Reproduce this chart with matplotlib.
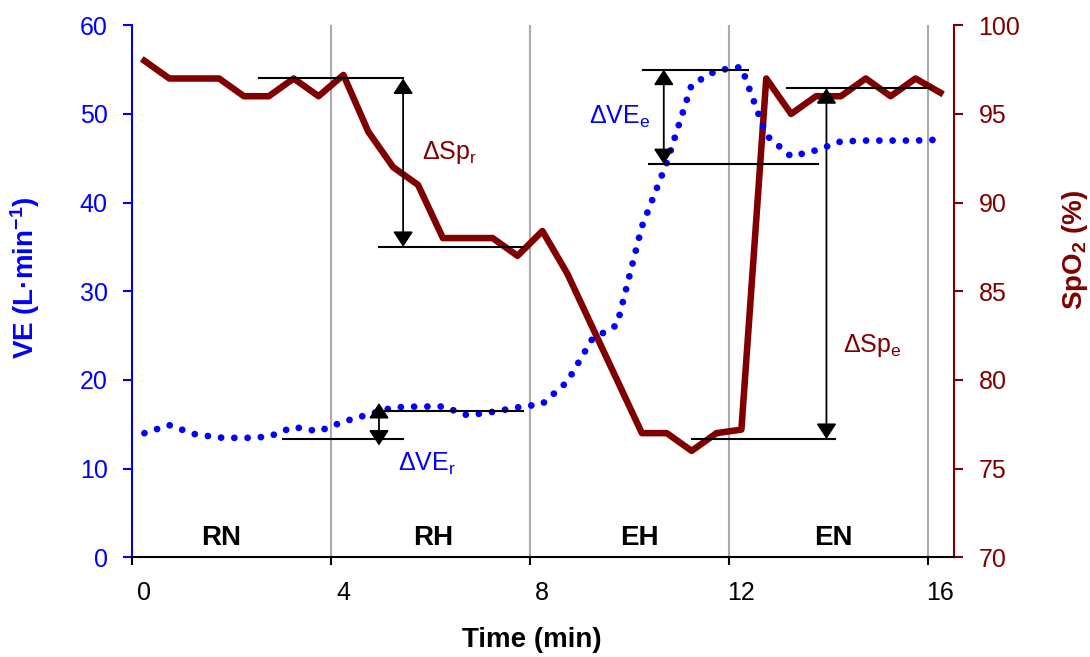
import matplotlib
matplotlib.use('Agg')
import matplotlib.pyplot as plt
from matplotlib.transforms import ScaledTranslation

plt.rcParams['font.family'] = ['Liberation Sans', 'DejaVu Sans']
plt.rcParams['mathtext.default'] = 'regular'

BLUE = '#0000ff'
DARKRED = '#800000'

# sample times (min)
time = [0.25, 0.75, 1.25, 1.75, 2.25, 2.75, 3.25, 3.75, 4.25, 4.75, 5.25,
        5.75, 6.25, 6.75, 7.25, 7.75, 8.25, 8.75, 9.25, 9.75, 10.25, 10.75,
        11.25, 11.75, 12.25, 12.75, 13.25, 13.75, 14.25, 14.75, 15.25, 15.75,
        16.25]

# ventilation (L/min)
ve = [14.0, 14.9, 13.9, 13.5, 13.45, 13.6, 14.7, 14.2, 15.3, 16.1, 16.9,
      17.0, 17.0, 16.0, 16.4, 16.9, 17.3, 19.8, 24.6, 26.2, 37.3, 44.5,
      53.3, 54.9, 55.3, 47.6, 45.2, 45.9, 46.9, 47.0, 47.0, 47.0, 47.1]

# oxygen saturation (%)
spo2 = [98, 97, 97, 97, 96, 96, 97, 96, 97.2, 94, 92, 91, 88, 88, 88, 87,
        88.4, 86, 83, 80, 77, 77, 76, 77, 77.2, 97, 95, 96, 96, 97, 96, 97,
        96.2]

x_ticks = [0, 4, 8, 12, 16]
ve_ticks = [0, 10, 20, 30, 40, 50, 60]
spo2_ticks = [70, 75, 80, 85, 90, 95, 100]
phase_bounds = [4, 8, 12, 16]
phases = ['RN', 'RH', 'EH', 'EN']
phase_x = [1.8, 6.05, 10.2, 14.1]

fig = plt.figure(figsize=(10.9, 6.57), dpi=100)
ax = fig.add_axes([0.1211, 0.1518, 0.7544, 0.8097])
ax2 = ax.twinx()
ax.set_zorder(ax2.get_zorder() + 1)
ax.patch.set_visible(False)

ax.set_xlim(0, 16.53)
ax.set_ylim(0, 60)
ax2.set_ylim(70, 100)

for b in phase_bounds:
    ax2.axvline(b, color='#ababab', lw=1.5, zorder=0)

ax2.plot(time, spo2, color=DARKRED, lw=4.7, zorder=2)
ax.plot(time, ve, color=BLUE, lw=4.9, linestyle=(0, (0.001, 1.95)),
        dash_capstyle='round', zorder=2)

# spines
ax.spines['top'].set_visible(False)
ax.spines['right'].set_visible(False)
ax2.spines['top'].set_visible(False)
ax2.spines['left'].set_visible(False)
ax2.spines['bottom'].set_visible(False)
ax.spines['left'].set_color(BLUE)
ax.spines['left'].set_linewidth(1.5)
ax.spines['bottom'].set_linewidth(1.5)
ax2.spines['right'].set_color(DARKRED)
ax2.spines['right'].set_linewidth(1.5)

ax.set_xticks(x_ticks)
ax.set_yticks(ve_ticks)
ax2.set_yticks(spo2_ticks)
ax.tick_params(axis='x', length=6, width=1.5, labelsize=18, pad=11)
ax.tick_params(axis='y', colors=BLUE, length=6.5, width=1.5, labelsize=18, pad=11)
ax2.tick_params(axis='y', colors=DARKRED, length=6.5, width=1.5, labelsize=18, pad=11)

offset = ScaledTranslation(0.12, 0, fig.dpi_scale_trans)
for lbl in ax.get_xticklabels():
    lbl.set_transform(lbl.get_transform() + offset)

for name, px in zip(phases, phase_x):
    ax.text(px, 2.2, name, ha='center', va='center', fontsize=20,
            fontweight='bold')

fig.text(532 / 1090, 1 - 640 / 657, 'Time (min)', ha='center', va='center',
         fontsize=20, fontweight='bold')
fig.text(25 / 1090, 1 - 278 / 657, 'VE (L·min$^{-1}$)', ha='center',
         va='center', rotation=90, fontsize=20, fontweight='bold', color=BLUE)
fig.text(1075 / 1090, 1 - 250 / 657, 'SpO$_2$ (%)', ha='center',
         va='center', rotation=90, fontsize=20, fontweight='bold',
         color=DARKRED)

ARROW = dict(arrowstyle='<|-|>,head_length=0.55,head_width=0.36',
             color='black', lw=1.3, shrinkA=0, shrinkB=0, mutation_scale=17)


def delta(axis, x, y_top, y_bot, top_span, bot_span, label, lx, ly, color):
    axis.plot(top_span, [y_top, y_top], color='black', lw=1.5, zorder=3)
    axis.plot(bot_span, [y_bot, y_bot], color='black', lw=1.5, zorder=3)
    axis.annotate('', xy=(x, y_top), xytext=(x, y_bot), arrowprops=ARROW,
                  zorder=3)
    axis.text(lx, ly, label, color=color, fontsize=18, ha='left',
              va='baseline', zorder=3)


# resting responses
delta(ax2, 5.45, 97.0, 87.5, [2.56, 5.45], [4.97, 7.87],
      'ΔSp$_r$', 5.82, 92.45, DARKRED)
ax.plot([4.99, 7.85], [16.45, 16.45], color='black', lw=1.5, zorder=3)
ax.plot([3.04, 5.44], [13.34, 13.34], color='black', lw=1.5, zorder=3)
ax.annotate('', xy=(4.965, 17.4), xytext=(4.965, 12.6), arrowprops=ARROW,
            zorder=3)
ax.text(5.35, 9.76, 'ΔVE$_r$', color=BLUE, fontsize=18, ha='left',
        va='baseline')

# exercise responses
delta(ax, 10.69, 55.0, 44.34, [10.28, 12.39], [10.39, 13.8],
      'ΔVE$_e$', 9.19, 48.85, BLUE)
delta(ax2, 13.96, 96.45, 76.67, [13.17, 16.07], [11.25, 14.13],
      'ΔSp$_e$', 14.29, 81.6, DARKRED)

fig.savefig('out.png', dpi=100)
